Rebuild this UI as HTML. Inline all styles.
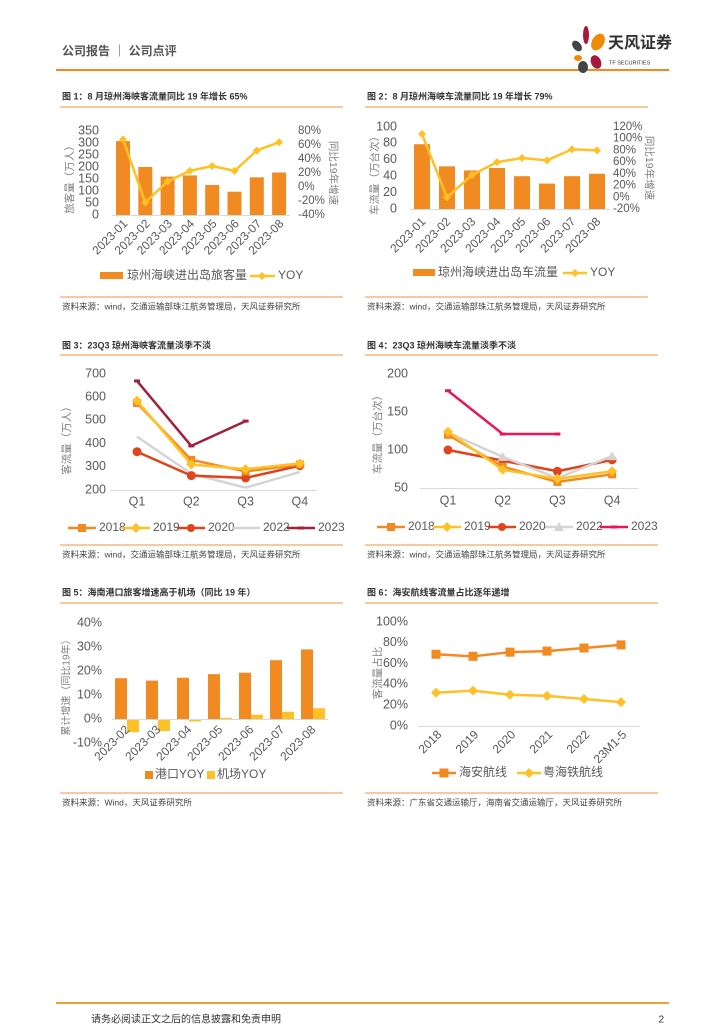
<!DOCTYPE html>
<html><head><meta charset="utf-8">
<style>
html,body{margin:0;padding:0;background:#fff;}
#page{position:relative;width:724px;height:1024px;overflow:hidden;}
svg text{font-family:"Liberation Sans","Noto Sans CJK SC",sans-serif;}
</style></head>
<body>
<div id="page">
<svg id="s" width="724" height="1024" viewBox="0 0 724 1024" xmlns="http://www.w3.org/2000/svg"></svg>
</div>
<script>
// ---------- data ----------
const months1 = ["2023-01","2023-02","2023-03","2023-04","2023-05","2023-06","2023-07","2023-08"];
const pax1 = [308,200,160,165,125,97,157,177];
const paxYoy1 = [68,-22,8,23,30,23,52,64];
const leftTicks1 = [0,50,100,150,200,250,300,350];
const rightTicks1 = [-40,-20,0,20,40,60,80];

const veh2 = [79,52,47,50,40,31,40,43];
const vehYoy2 = [108,0,38,60,67,63,82,80];
const leftTicks2 = [0,20,40,60,80,100];
const rightTicks2 = [-20,0,20,40,60,80,100,120];

const quarters = ["Q1","Q2","Q3","Q4"];
const years = ["2018","2019","2020","2022","2023"];
const pax3_2018 = [575,330,280,310];
const pax3_2019 = [585,310,290,315];
const pax3_2020 = [365,262,252,305];
const pax3_2022 = [430,270,210,278];
const pax3_2023 = [670,390,497];
const ticks3 = [200,300,400,500,600,700];

const veh4_2018 = [120,78,58,68];
const veh4_2019 = [124,74,62,72];
const veh4_2020 = [100,86,72,87];
const veh4_2022 = [123,91,63,92];
const veh4_2023 = [178,121,121];
const ticks4 = [50,100,150,200];

const months5 = ["2023-02","2023-03","2023-04","2023-05","2023-06","2023-07","2023-08"];
const port5 = [17,16,17.2,18.7,19.3,24.5,29];
const airport5 = [-5.5,-5,-1,0.5,1.8,3,4.5];
const ticks5 = [-10,0,10,20,30,40];

const years6 = ["2018","2019","2020","2021","2022","23M1-5"];
const haian6 = [69,67,71,72,75,78];
const yuehai6 = [32,34,30,29,26,23];
const ticks6 = [0,20,40,60,80,100];

// ---------- helpers ----------
const S = document.getElementById('s');
const NS = "http://www.w3.org/2000/svg";
const ORANGE="#F28A22", GOLD="#FFC125", RED="#E0441C", GREY="#D4D4D4", AX="#7f7f7f";
function mk(tag, attrs, name, parent){
  const e=document.createElementNS(NS,tag);
  for(const k in attrs) e.setAttribute(k,attrs[k]);
  
  
  (parent||S).appendChild(e);
  return e;
}
function txt(x,y,s,name,o){
  o=o||{};
  const a={x:x,y:y,'font-size':o.size||11,fill:o.fill||'#595959','text-anchor':o.anchor||'start','dominant-baseline':'middle'};
  if(o.weight) a['font-weight']=o.weight;
  if(o.rot!==undefined) a.transform='rotate('+o.rot+' '+x+' '+y+')';
  const t=mk('text',a,name);
  t.textContent=s;
  return t;
}
function line(x1,y1,x2,y2,c,w,name){return mk('line',{x1:x1,y1:y1,x2:x2,y2:y2,stroke:c,'stroke-width':w},name);}
function lin(d0,d1,p0,p1){return v=>p0+(v-d0)/(d1-d0)*(p1-p0);}
function marker(type,x,y,c,r,name){
  if(type==='square') return mk('rect',{x:x-r,y:y-r,width:2*r,height:2*r,fill:c},name);
  if(type==='diamond') return mk('polygon',{points:(x)+','+(y-r-1)+' '+(x+r+1)+','+y+' '+x+','+(y+r+1)+' '+(x-r-1)+','+y,fill:c},name);
  if(type==='circle') return mk('circle',{cx:x,cy:y,r:r,fill:c},name);
  if(type==='triangle') return mk('polygon',{points:x+','+(y-r-1)+' '+(x+r+1)+','+(y+r)+' '+(x-r-1)+','+(y+r),fill:c},name);
  if(type==='dash') return mk('rect',{x:x-3,y:y-1.5,width:6,height:3,fill:c},name);
}
function series(xs,vals,sy,c,w,mtype,mr,name){
  const pts=vals.map((v,i)=>xs[i]+','+sy(v)).join(' ');
  mk('polyline',{points:pts,fill:'none',stroke:c,'stroke-width':w,'stroke-linejoin':'round'},name+'-line');
  vals.forEach((v,i)=>{ if(mtype) marker(mtype,xs[i],sy(v),c,mr,name+'-point'); });
}
function frame(x1,x2,titleY,lineY,srcLineY,title,src,n){
  txt(x1+2,titleY,title,n+'-title',{size:9,weight:'bold',fill:'#333'});
  line(x1,lineY,x2,lineY,'#F6B67E',1.5,n+'-title-rule');
  line(x1,srcLineY,x2,srcLineY,'#F6B67E',1.5,n+'-source-rule');
  txt(x1+2,srcLineY+10,src,n+'-source',{size:8.5,fill:'#444'});
}

// ---------- header/footer ----------
txt(62,52,"公司报告 ｜ 公司点评","header-title",{size:12,weight:'bold',fill:'#555'});
line(56,70,669,70,ORANGE,2,"header-rule");
mk('ellipse',{cx:586,cy:35,rx:3,ry:9,fill:'#A6193A'},'logo-petal');
mk('ellipse',{cx:598,cy:42,rx:6,ry:9,fill:'#F08A00',transform:'rotate(30 598 42)'},'logo-petal');
mk('ellipse',{cx:577,cy:46,rx:4,ry:6,fill:'#444',transform:'rotate(-40 577 46)'},'logo-petal');
mk('ellipse',{cx:578,cy:58,rx:4,ry:3,fill:'#F08A00'},'logo-petal');
mk('ellipse',{cx:583,cy:67,rx:5,ry:6,fill:'#444'},'logo-petal');
mk('ellipse',{cx:596,cy:62,rx:5,ry:7,fill:'#A6193A',transform:'rotate(-25 596 62)'},'logo-petal');
txt(608,44,"天风证券","logo-text",{size:16,weight:'bold',fill:'#333'});
txt(609,63,"TF SECURITIES","logo-subtext",{size:5.5,fill:'#333'});
line(56,1003,669,1003,'#F0A030',2,"footer-rule");
txt(91,1020,"请务必阅读正文之后的信息披露和免责申明","footer-disclaimer",{size:10,fill:'#333'});
txt(664,1020,"2","page-number",{size:10,fill:'#333',anchor:'end'});

// ---------- chart 1 ----------
frame(60,343,97,107,297,"图 1：8 月琼州海峡客流量同比 19 年增长 65%","资料来源：wind，交通运输部珠江航务管理局，天风证券研究所","chart1");
(function(){
  const sy=lin(0,350,215,131), sr=lin(-40,80,215,131);
  const cx=i=>123+i*22.3;
  leftTicks1.forEach(v=>txt(99,sy(v),String(v),'chart1-y-tick',{anchor:'end',size:12.5}));
  rightTicks1.forEach(v=>txt(298,sr(v),v+'%','chart1-y2-tick',{size:11.5}));
  pax1.forEach((v,i)=>mk('rect',{x:cx(i)-7,y:sy(v),width:14,height:sy(0)-sy(v),fill:ORANGE},'chart1-bar'));
  line(112,215.5,290,215.5,'#D9D9D9',1,'chart1-x-axis');
  series(months1.map((m,i)=>cx(i)),paxYoy1,sr,GOLD,2.5,'diamond',3,'chart1-yoy');
  months1.forEach((m,i)=>txt(cx(i)+3,222,m,'chart1-x-tick',{anchor:'end',rot:-45,size:12}));
  txt(70,177,"旅客量（万人）","chart1-y-title",{anchor:'middle',rot:-90,size:10.5,fill:AX});
  txt(333,173,"同比19年增速","chart1-y2-title",{anchor:'middle',rot:90,size:10.5,fill:AX});
  mk('rect',{x:100,y:272,width:23,height:7,fill:ORANGE},'chart1-legend-swatch');
  txt(127,276,"琼州海峡进出岛旅客量","chart1-legend-label",{size:12});
  line(250,276,275,276,GOLD,2.5,'chart1-legend-line'); marker('diamond',262,276,GOLD,3,'chart1-legend-marker');
  txt(278,276,"YOY","chart1-legend-label",{size:12});
})();

// ---------- chart 2 ----------
frame(365,648,97,107,297,"图 2：8 月琼州海峡车流量同比 19 年增长 79%","资料来源：wind，交通运输部珠江航务管理局，天风证券研究所","chart2");
(function(){
  const sy=lin(0,100,209,127), sr=lin(-20,120,209,127);
  const cx=i=>422+i*25;
  leftTicks2.forEach(v=>txt(397,sy(v),String(v),'chart2-y-tick',{anchor:'end',size:12.5}));
  rightTicks2.forEach(v=>txt(613,sr(v),v+'%','chart2-y2-tick',{size:11.5}));
  veh2.forEach((v,i)=>mk('rect',{x:cx(i)-8,y:sy(v),width:16,height:sy(0)-sy(v),fill:ORANGE},'chart2-bar'));
  line(410,209.5,610,209.5,'#D9D9D9',1,'chart2-x-axis');
  series(months1.map((m,i)=>cx(i)),vehYoy2,sr,GOLD,2.5,'diamond',3,'chart2-yoy');
  months1.forEach((m,i)=>txt(cx(i)+2,220,m,'chart2-x-tick',{anchor:'end',rot:-45,size:12}));
  txt(375,173,"车流量（万台次）","chart2-y-title",{anchor:'middle',rot:-90,size:10.5,fill:AX});
  txt(649,168,"同比19年增速","chart2-y2-title",{anchor:'middle',rot:90,size:10.5,fill:AX});
  mk('rect',{x:413,y:269,width:22,height:7,fill:ORANGE},'chart2-legend-swatch');
  txt(438,273,"琼州海峡进出岛车流量","chart2-legend-label",{size:12});
  line(563,273,587,273,GOLD,2.5,'chart2-legend-line'); marker('diamond',575,273,GOLD,3,'chart2-legend-marker');
  txt(590,273,"YOY","chart2-legend-label",{size:12});
})();

// ---------- chart 3 ----------
frame(60,343,346,355,545,"图 3：23Q3 琼州海峡客流量淡季不淡","资料来源：wind，交通运输部珠江航务管理局，天风证券研究所","chart3");
(function(){
  const sy=lin(200,700,490,374);
  const qx=quarters.map((q,i)=>137+i*54.3);
  ticks3.forEach(v=>txt(106,sy(v),String(v),'chart3-y-tick',{anchor:'end',size:12.5}));
  line(110,490.5,317,490.5,'#D9D9D9',1,'chart3-x-axis');
  quarters.forEach((q,i)=>txt(qx[i],502,q,'chart3-x-tick',{anchor:'middle',size:12.5}));
  series(qx,pax3_2022,sy,GREY,2.5,null,0,'chart3-2022');
  series(qx,pax3_2020,sy,RED,2.5,'circle',4.5,'chart3-2020');
  series(qx,pax3_2018,sy,ORANGE,2.5,'square',4,'chart3-2018');
  series(qx,pax3_2019,sy,GOLD,2.5,'diamond',4,'chart3-2019');
  series(qx,pax3_2023,sy,'#A0213C',2.5,'dash',2,'chart3-2023');
  txt(67,438,"客流量（万人）","chart3-y-title",{anchor:'middle',rot:-90,size:10.5,fill:AX});
  const lg=[[68,ORANGE,'square'],[122,GOLD,'diamond'],[177,RED,'circle'],[232,GREY,null],[287,'#A0213C','dash']];
  lg.forEach((l,i)=>{line(l[0],528,l[0]+28,528,l[1],2.5,'chart3-legend-line'); if(l[2]) marker(l[2],l[0]+14,528,l[1],4,'chart3-legend-marker'); txt(l[0]+31,528,years[i],'chart3-legend-label',{size:12});});
})();

// ---------- chart 4 ----------
frame(365,658,346,355,545,"图 4：23Q3 琼州海峡车流量淡季不淡","资料来源：wind，交通运输部珠江航务管理局，天风证券研究所","chart4");
(function(){
  const sy=lin(50,200,488,374);
  const qx=quarters.map((q,i)=>448+i*54.7);
  ticks4.forEach(v=>txt(408,sy(v),String(v),'chart4-y-tick',{anchor:'end',size:12.5}));
  line(420,488.5,638,488.5,'#D9D9D9',1,'chart4-x-axis');
  quarters.forEach((q,i)=>txt(qx[i],501,q,'chart4-x-tick',{anchor:'middle',size:12.5}));
  series(qx,veh4_2020,sy,RED,2.5,'circle',4.5,'chart4-2020');
  series(qx,veh4_2022,sy,GREY,2.5,'triangle',4,'chart4-2022');
  series(qx,veh4_2018,sy,ORANGE,2.5,'square',4,'chart4-2018');
  series(qx,veh4_2019,sy,GOLD,2.5,'diamond',4,'chart4-2019');
  series(qx,veh4_2023,sy,'#E8175D',2.5,'dash',2,'chart4-2023');
  txt(378,432,"车流量（万台次）","chart4-y-title",{anchor:'middle',rot:-90,size:10.5,fill:AX});
  const lg=[[377,ORANGE,'square'],[433,GOLD,'diamond'],[488,RED,'circle'],[545,GREY,'triangle'],[600,'#E8175D','dash']];
  lg.forEach((l,i)=>{line(l[0],527,l[0]+28,527,l[1],2.5,'chart4-legend-line'); marker(l[2],l[0]+14,527,l[1],4,'chart4-legend-marker'); txt(l[0]+31,527,years[i],'chart4-legend-label',{size:12});});
})();

// ---------- chart 5 ----------
frame(60,343,593,603,793,"图 5：海南港口旅客增速高于机场（同比 19 年）","资料来源：Wind，天风证券研究所","chart5");
(function(){
  const sy=lin(-10,40,743,623);
  const cx=i=>127+i*31;
  ticks5.forEach(v=>txt(102,sy(v),v+'%','chart5-y-tick',{anchor:'end',size:12.5}));
  port5.forEach((v,i)=>mk('rect',{x:cx(i)-12,y:Math.min(sy(v),sy(0)),width:12,height:Math.abs(sy(0)-sy(v)),fill:ORANGE},'chart5-port-bar'));
  airport5.forEach((v,i)=>mk('rect',{x:cx(i),y:Math.min(sy(v),sy(0)),width:12,height:Math.max(1,Math.abs(sy(0)-sy(v))),fill:GOLD},'chart5-airport-bar'));
  line(112,719.5,328,719.5,'#D9D9D9',1,'chart5-x-axis');
  months5.forEach((m,i)=>txt(cx(i)+1,728,m,'chart5-x-tick',{anchor:'end',rot:-45,size:12}));
  txt(67,685,"累计增速（同比19年）","chart5-y-title",{anchor:'middle',rot:-90,size:10,fill:AX});
  mk('rect',{x:145,y:771,width:8,height:8,fill:ORANGE},'chart5-legend-swatch');
  txt(155,775,"港口YOY","chart5-legend-label",{size:12});
  mk('rect',{x:207,y:771,width:8,height:8,fill:GOLD},'chart5-legend-swatch');
  txt(217,775,"机场YOY","chart5-legend-label",{size:12});
})();

// ---------- chart 6 ----------
frame(365,658,593,603,793,"图 6：海安航线客流量占比逐年递增","资料来源：广东省交通运输厅，海南省交通运输厅，天风证券研究所","chart6");
(function(){
  const sy=lin(0,100,726,622);
  const xs=years6.map((y,i)=>436+i*37);
  ticks6.forEach(v=>txt(408,sy(v),v+'%','chart6-y-tick',{anchor:'end',size:12.5}));
  line(418,726.5,640,726.5,'#D9D9D9',1,'chart6-x-axis');
  series(xs,haian6,sy,ORANGE,2.5,'square',4.5,'chart6-haian');
  series(xs,yuehai6,sy,GOLD,2.5,'diamond',4,'chart6-yuehai');
  years6.forEach((y,i)=>txt(xs[i]+4,733,y,'chart6-x-tick',{anchor:'end',rot:-45,size:12}));
  txt(378,673,"客流量占比","chart6-y-title",{anchor:'middle',rot:-90,size:10.5,fill:AX});
  line(432,773,456,773,ORANGE,2.5,'chart6-legend-line'); marker('square',444,773,ORANGE,4.5,'chart6-legend-marker');
  txt(459,773,"海安航线","chart6-legend-label",{size:12});
  line(517,773,541,773,GOLD,2.5,'chart6-legend-line'); marker('diamond',529,773,GOLD,4,'chart6-legend-marker');
  txt(543,773,"粤海铁航线","chart6-legend-label",{size:12});
})();
</script>
</body></html>
